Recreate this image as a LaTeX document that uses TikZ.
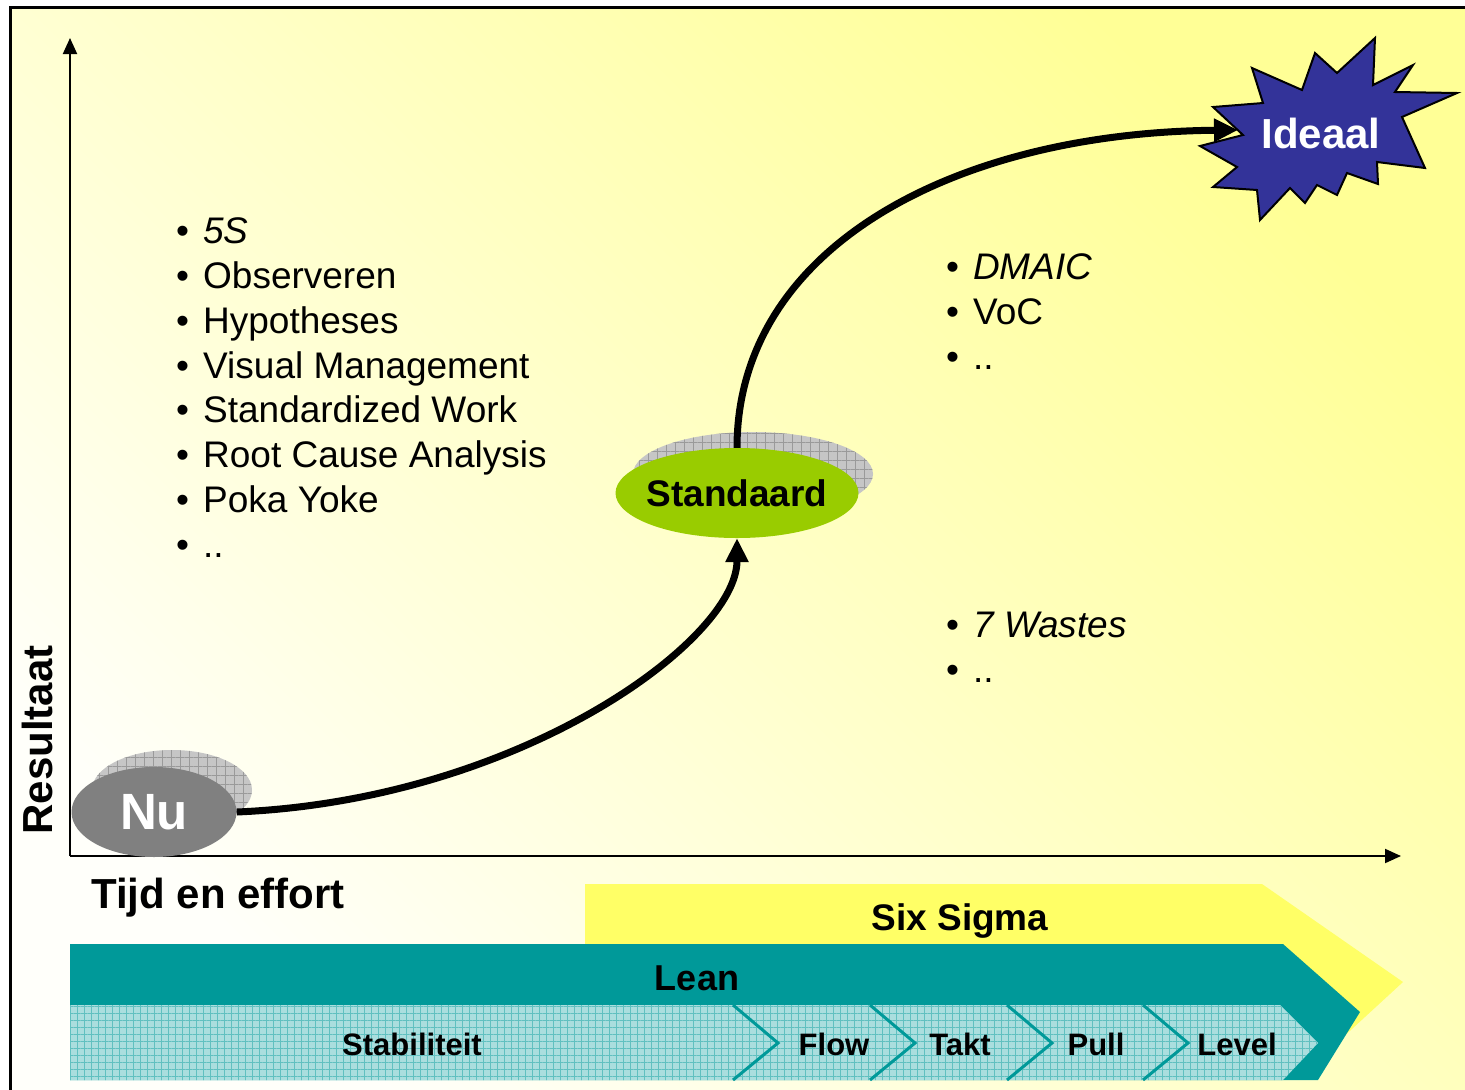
\documentclass[tikz,border=0pt]{standalone}
\usepackage{fontspec}
\setmainfont{Liberation Sans}
\usetikzlibrary{arrows.meta,shapes.geometric,patterns.meta}
\definecolor{leanteal}{HTML}{009999}
\definecolor{sixyellow}{HTML}{FFFF66}
\definecolor{stdgreen}{HTML}{99CC00}
\definecolor{starblue}{HTML}{333399}
\definecolor{nugray}{HTML}{808080}
\definecolor{shadowgray}{HTML}{C6C6C6}
\definecolor{gridgray}{HTML}{9A9A9A}
\definecolor{stripfill}{HTML}{AADEDE}
\definecolor{stripgrid}{HTML}{60C0C0}
\definecolor{bgyellow}{RGB}{255,255,150}
\definecolor{bgmid}{RGB}{255,255,232}
\definecolor{bgcream}{RGB}{255,255,250}
\newcommand\bl{\makebox[27pt][l]{•}}
\begin{document}
\begin{tikzpicture}[x=1pt,y=-1pt,
  btxt/.style={font=\fontsize{37}{44}\selectfont, anchor=base west, inner sep=0pt},
  conn/.style={line width=7pt, -{Triangle[length=24pt,width=22pt]}},
  axisline/.style={line width=2pt, -{Triangle[length=16pt,width=14pt]}},
  shadowell/.style={fill=shadowgray, postaction={pattern={Hatch[angle=0,distance=9pt,line width=0.8pt]}, pattern color=gridgray}},
  barlabel/.style={font=\bfseries\fontsize{31}{36}\selectfont, anchor=base, inner sep=0pt},
  chev/.style={draw=leanteal, line width=3pt, line join=miter},
  biglabel/.style={font=\bfseries\fontsize{42}{48}\selectfont, inner sep=0pt}]
\useasboundingbox (0,0) rectangle (1465,1090);
% background
\shade[top color=bgyellow, middle color=bgmid, bottom color=bgcream, shading angle=-45] (10,7) rectangle (1465,1090);
\draw[line width=3pt] (10,1090) -- (10,7) -- (1465,7);
% axes
\coordinate (O) at (70,856);
\coordinate (ytop) at (70,38);
\coordinate (xend) at (1401,856);
\draw[axisline] (O) -- (ytop);
\draw[axisline] (O) -- (xend);
\node[biglabel, rotate=90] (res) at (37,740) {Resultaat};
\node[biglabel, anchor=base west] (tijd) at (91,908) {Tijd en effort};
% bottom bars
\fill[sixyellow] (585,884) -- (1262,884) -- (1403,982) -- (1340,1040) -- (585,1040) -- cycle;
\fill[leanteal] (70,944) -- (1283,944) -- (1360,1012) -- (1318,1080) -- (70,1080) -- cycle;
\path[fill=stripfill, postaction={pattern={Hatch[angle=0,distance=7pt,line width=0.8pt]}, pattern color=stripgrid}]
  (70,1005) -- (1280,1005) -- (1318,1043) -- (1283,1080) -- (70,1080) -- cycle;
\foreach \cx in {733,870,1007,1143} {
  \draw[chev] (\cx,1005) -- (\cx+45,1043) -- (\cx,1080);
}
\node[barlabel, font=\bfseries\fontsize{37}{42}\selectfont] (six) at (960,930) {Six Sigma};
\node[barlabel, font=\bfseries\fontsize{36}{42}\selectfont] (lean) at (697,990) {Lean};
\node[barlabel] (stab) at (412,1055) {Stabiliteit};
\node[barlabel] (flow) at (834,1055) {Flow};
\node[barlabel] (takt) at (960,1055) {Takt};
\node[barlabel] (pull) at (1096,1055) {Pull};
\node[barlabel] (level) at (1237,1055) {Level};
% shadows
\path[shadowell] (172,790) ellipse (80 and 40);
\path[shadowell] (753,474) ellipse (120 and 42);
% nodes
\node[ellipse, fill=nugray, minimum width=165pt, minimum height=90pt, inner sep=0pt,
  label={[text=white, font=\bfseries\fontsize{51}{56}\selectfont, inner sep=0pt]center:Nu}] (nu) at (154,812) {};
\node[ellipse, fill=stdgreen, minimum width=243pt, minimum height=90pt, inner sep=0pt,
  label={[font=\bfseries\fontsize{37}{42}\selectfont, inner sep=0pt]center:Standaard}] (std) at (737,493) {};
% star
\draw[fill=starblue, line width=2pt, line join=miter]
  (1213,107) -- (1263,103) -- (1252,68) -- (1302,90) -- (1315,53) -- (1337,73) -- (1375,38)
  -- (1373,85) -- (1413,65) -- (1395,92) -- (1457,93) -- (1402,117) -- (1425,168)
  -- (1377,162) -- (1378,184) -- (1347,173) -- (1337,195) -- (1317,185) -- (1305,203)
  -- (1290,188) -- (1260,220) -- (1257,190) -- (1213,187) -- (1237,167) -- (1200,146)
  -- (1243,135) -- cycle;
\node[biglabel, text=white] (ideaal) at (1321,133) {Ideaal};
\coordinate (startip) at (1238,130);
% connectors
\draw[conn] (nu.east) .. controls (520,800) and (737,640) .. (std.south);
\draw[conn] (std.north) .. controls (737,250) and (950,133) .. (startip);
% bullet lists
\node[btxt] (a1) at (176,243) {\bl\textit{5S}};
\node[btxt] (a2) at (176,288) {\bl Observeren};
\node[btxt] (a3) at (176,333) {\bl Hypotheses};
\node[btxt] (a4) at (176,378) {\bl Visual Management};
\node[btxt] (a5) at (176,422) {\bl Standardized Work};
\node[btxt] (a6) at (176,467) {\bl Root Cause Analysis};
\node[btxt] (a7) at (176,512) {\bl Poka Yoke};
\node[btxt] (a8) at (176,557) {\bl ..};
\node[btxt] (b1) at (946,279) {\bl\textit{DMAIC}};
\node[btxt] (b2) at (946,324) {\bl VoC};
\node[btxt] (b3) at (946,369) {\bl ..};
\node[btxt] (c1) at (946,637) {\bl\textit{7 Wastes}};
\node[btxt] (c2) at (946,682) {\bl ..};
\end{tikzpicture}
\end{document}
